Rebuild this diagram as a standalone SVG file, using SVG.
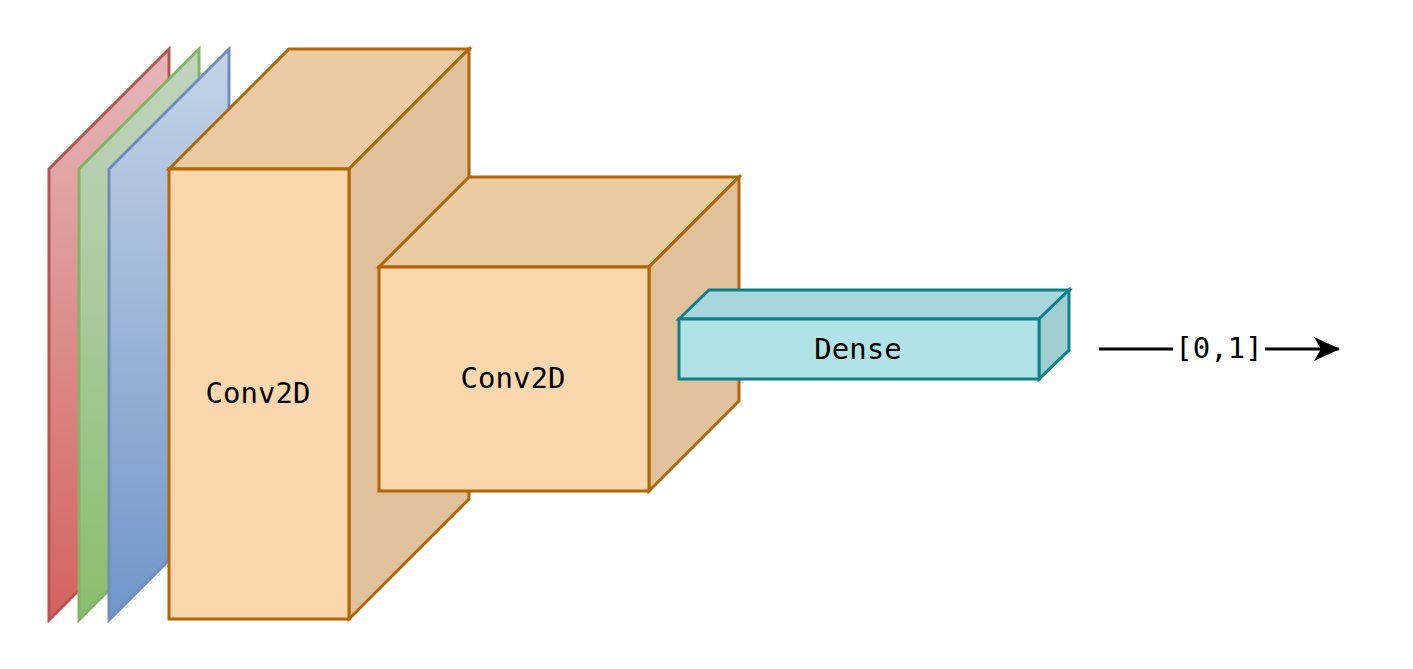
<svg xmlns="http://www.w3.org/2000/svg" width="1413" height="669" viewBox="0 0 1413 669">
<defs>
<linearGradient id="gRed" x1="0" y1="0" x2="0" y2="1"><stop offset="0" stop-color="#e3b8b8"/><stop offset="1" stop-color="#d4625e"/></linearGradient>
<linearGradient id="gGreen" x1="0" y1="0" x2="0" y2="1"><stop offset="0" stop-color="#c2d4c0"/><stop offset="1" stop-color="#8abd6c"/></linearGradient>
<linearGradient id="gBlue" x1="0" y1="0" x2="0" y2="1"><stop offset="0" stop-color="#c4d2e6"/><stop offset="1" stop-color="#7196c9"/></linearGradient>
<marker id="arrow" viewBox="0 0 26 26" refX="25" refY="13" markerWidth="26" markerHeight="26" markerUnits="userSpaceOnUse" orient="auto">
<path d="M0,1 L26,13 L0,25 L7,13 Z" fill="#000"/>
</marker>
<style>
.lbl{font-family:"DejaVu Sans Mono","Liberation Mono",monospace;font-size:29px;fill:#000;text-anchor:middle;dominant-baseline:central}
.orange{stroke:#b46504;stroke-width:3;stroke-linejoin:miter}
.teal{stroke:#0e8088;stroke-width:3;stroke-linejoin:miter}
</style>
</defs>
<g id="plane-red"><path d="M49,169 L169,49 L169,500 L49,620 Z" fill="url(#gRed)" stroke="#b85450" stroke-width="3"/></g>
<g id="plane-green"><path d="M79,169 L199,49 L199,500 L79,620 Z" fill="url(#gGreen)" stroke="#82b366" stroke-width="3"/></g>
<g id="plane-blue"><path d="M109,169 L229,49 L229,500 L109,620 Z" fill="url(#gBlue)" stroke="#6c8ebf" stroke-width="3"/></g>
<g id="conv2d-1">
<path class="orange" d="M169,169 L289,49 L469,49 L349,169 Z" fill="#edcba2"/>
<path class="orange" d="M349,169 L469,49 L469,499 L349,619 Z" fill="#e1c19b"/>
<rect class="orange" x="169" y="169" width="180" height="450" fill="#fad7ac"/>
<text class="lbl" x="258" y="393">Conv2D</text>
</g>
<g id="conv2d-2">
<path class="orange" d="M379,267 L469,177 L739,177 L649,267 Z" fill="#edcba2"/>
<path class="orange" d="M649,267 L739,177 L739,401 L649,491 Z" fill="#e1c19b"/>
<rect class="orange" x="379" y="267" width="270" height="224" fill="#fad7ac"/>
<text class="lbl" x="513" y="378">Conv2D</text>
</g>
<g id="dense">
<path class="teal" d="M679,319 L709,290 L1069,290 L1039,319 Z" fill="#a7d7dc"/>
<path class="teal" d="M1039,319 L1069,290 L1069,350 L1039,379 Z" fill="#9fcdd0"/>
<rect class="teal" x="679" y="319" width="360" height="60" fill="#b0e3e6"/>
<text class="lbl" x="858" y="349">Dense</text>
</g>
<g id="connectors">
<line x1="1099" y1="349" x2="1339" y2="349" stroke="#000" stroke-width="3" marker-end="url(#arrow)"/>
<rect x="1173" y="333" width="92" height="32" fill="#fff"/>
<text class="lbl" x="1219" y="348">[0,1]</text>
</g>
</svg>
